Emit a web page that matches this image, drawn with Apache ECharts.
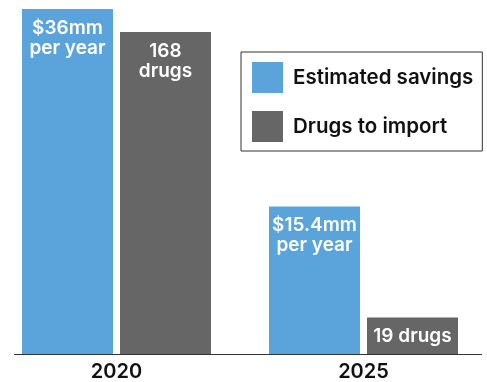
<!DOCTYPE html>
<html>
<head>
<meta charset="utf-8">
<script src="https://cdn.jsdelivr.net/npm/echarts@6/dist/echarts.min.js"></script>
<style>html,body{margin:0;padding:0;background:#fff;}#c{width:487px;height:382px;}</style>
</head>
<body>
<div id="c"></div>
<script>
var categories = ['2020', '2025'];
var seriesNames = ['Estimated savings', 'Drugs to import'];
var savings = [36, 15.4];
var drugs = [168, 19];
var savingsLabels = ['$36mm\nper year', '$15.4mm\nper year'];
var drugsLabels = ['168\ndrugs', '19 drugs'];

var FONT = 'Inter';
var chart = echarts.init(document.getElementById('c'), null, {renderer: 'canvas'});
var labelBase = {
  show: true, color: '#fff', fontFamily: FONT, fontWeight: 600,
  fontSize: 19, lineHeight: 20, position: 'insideTop', distance: 9
};
chart.setOption({
  animation: false,
  grid: {left: -7, width: 494, top: 9, bottom: 28, outerBoundsMode: 'none', containLabel: false},
  legend: {
    orient: 'vertical', left: 241, top: 52,
    itemWidth: 31, itemHeight: 31, itemGap: 18,
    padding: [10, 9, 9, 11], borderColor: '#333', borderWidth: 1,
    icon: 'rect',
    textStyle: {fontFamily: FONT, fontWeight: 600, fontSize: 20.5, color: '#111', padding: [0, 0, 0, 5]},
    data: seriesNames
  },
  xAxis: {
    type: 'category', data: categories,
    axisLine: {show: false}, axisTick: {show: false},
    axisLabel: {fontFamily: FONT, fontWeight: 600, fontSize: 20, color: '#111', margin: 8}
  },
  yAxis: [
    {type: 'value', min: 0, max: 36, show: false},
    {type: 'value', min: 0, max: 180, show: false}
  ],
  graphic: [{
    type: 'line', shape: {x1: 14, y1: 354.5, x2: 482, y2: 354.5},
    style: {stroke: '#333', lineWidth: 1}, z: 10
  }],
  series: [
    {
      name: seriesNames[0], type: 'bar', yAxisIndex: 0, barWidth: 91, barGap: '7.7%',
      itemStyle: {color: '#5ba4db'},
      data: savings.map(function (v, i) {
        return {value: v, label: Object.assign({}, labelBase, {formatter: savingsLabels[i]})};
      })
    },
    {
      name: seriesNames[1], type: 'bar', yAxisIndex: 1, barWidth: 91, barGap: '7.7%',
      itemStyle: {color: '#666666'},
      data: drugs.map(function (v, i) {
        var l = Object.assign({}, labelBase, {formatter: drugsLabels[i]});
        if (i === 1) { l.position = 'inside'; }
        return {value: v, label: l};
      })
    }
  ]
});
</script>
</body>
</html>
